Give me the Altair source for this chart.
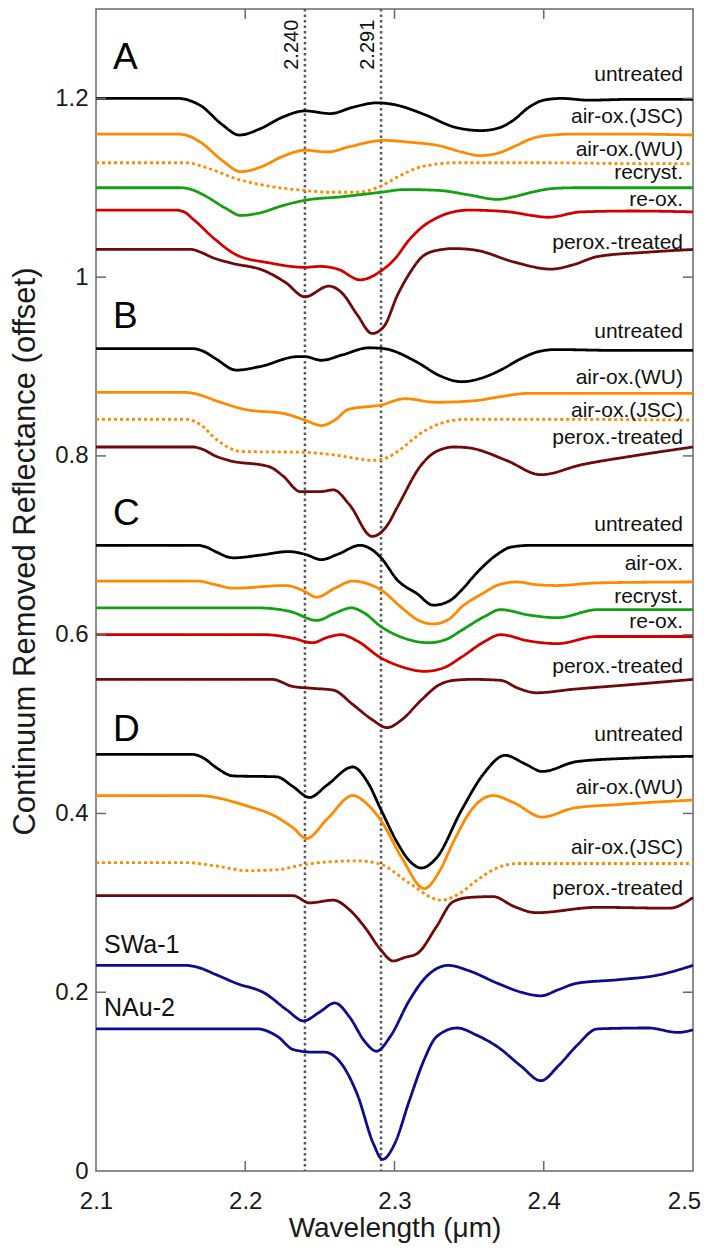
import altair as alt
import pandas as pd

# ---------------- data (wavelength in um, continuum-removed reflectance with offset) -------------
A_untreated = [(2.100,1.200),(2.155,1.200),(2.162,1.198),(2.170,1.192),(2.185,1.170),(2.196,1.159),(2.210,1.166),(2.225,1.179),(2.240,1.186),(2.257,1.183),(2.272,1.190),(2.288,1.195),(2.300,1.193),(2.320,1.182),(2.340,1.168),(2.358,1.164),(2.370,1.167),(2.380,1.176),(2.390,1.190),(2.400,1.198),(2.412,1.200),(2.430,1.198),(2.460,1.199),(2.500,1.199)]
A_airox_JSC = [(2.100,1.160),(2.155,1.160),(2.162,1.158),(2.170,1.151),(2.185,1.130),(2.197,1.118),(2.210,1.123),(2.225,1.135),(2.240,1.142),(2.255,1.140),(2.270,1.146),(2.293,1.153),(2.310,1.151),(2.330,1.147),(2.345,1.140),(2.357,1.136),(2.370,1.139),(2.380,1.146),(2.392,1.155),(2.405,1.159),(2.420,1.160),(2.460,1.160),(2.500,1.159)]
A_airox_WU = [(2.100,1.128),(2.160,1.128),(2.175,1.122),(2.194,1.110),(2.215,1.102),(2.240,1.097),(2.255,1.095),(2.275,1.095),(2.291,1.102),(2.302,1.112),(2.315,1.122),(2.326,1.126),(2.340,1.128),(2.400,1.128),(2.460,1.127),(2.500,1.127)]
A_recryst = [(2.100,1.100),(2.157,1.100),(2.164,1.098),(2.172,1.092),(2.187,1.077),(2.197,1.069),(2.210,1.072),(2.225,1.080),(2.240,1.086),(2.265,1.090),(2.291,1.095),(2.307,1.098),(2.330,1.097),(2.350,1.092),(2.369,1.087),(2.380,1.090),(2.392,1.095),(2.405,1.099),(2.420,1.100),(2.460,1.100),(2.500,1.100)]
A_reox = [(2.100,1.075),(2.153,1.075),(2.159,1.073),(2.165,1.065),(2.180,1.042),(2.194,1.025),(2.216,1.016),(2.240,1.011),(2.250,1.012),(2.262,1.009),(2.277,0.997),(2.291,1.007),(2.300,1.020),(2.310,1.042),(2.320,1.058),(2.328,1.066),(2.337,1.072),(2.350,1.075),(2.377,1.073),(2.392,1.069),(2.403,1.067),(2.425,1.073),(2.460,1.074),(2.500,1.073)]
A_perox = [(2.100,1.031),(2.164,1.031),(2.170,1.028),(2.178,1.022),(2.190,1.016),(2.213,1.007),(2.227,0.994),(2.240,0.978),(2.256,0.990),(2.265,0.982),(2.275,0.958),(2.285,0.937),(2.293,0.945),(2.302,0.980),(2.310,1.004),(2.318,1.022),(2.326,1.029),(2.340,1.032),(2.355,1.030),(2.380,1.017),(2.405,1.009),(2.420,1.014),(2.436,1.023),(2.470,1.028),(2.500,1.031)]

B_untreated = [(2.100,0.920),(2.165,0.920),(2.172,0.917),(2.180,0.909),(2.194,0.896),(2.210,0.900),(2.235,0.911),(2.240,0.911),(2.251,0.907),(2.265,0.913),(2.283,0.921),(2.293,0.920),(2.315,0.905),(2.330,0.890),(2.345,0.883),(2.360,0.888),(2.371,0.896),(2.385,0.909),(2.395,0.916),(2.408,0.919),(2.450,0.918),(2.500,0.918)]
B_airox_WU = [(2.100,0.871),(2.160,0.871),(2.170,0.868),(2.180,0.862),(2.200,0.852),(2.227,0.847),(2.240,0.840),(2.251,0.834),(2.260,0.840),(2.269,0.852),(2.291,0.857),(2.307,0.864),(2.328,0.860),(2.355,0.862),(2.370,0.866),(2.390,0.870),(2.450,0.870),(2.500,0.870)]
B_airox_JSC = [(2.100,0.841),(2.160,0.841),(2.170,0.835),(2.181,0.818),(2.197,0.805),(2.240,0.804),(2.260,0.801),(2.275,0.797),(2.285,0.795),(2.295,0.798),(2.302,0.805),(2.320,0.828),(2.332,0.837),(2.348,0.841),(2.400,0.841),(2.500,0.840)]
B_perox = [(2.100,0.810),(2.165,0.810),(2.172,0.807),(2.180,0.800),(2.189,0.795),(2.216,0.788),(2.225,0.778),(2.237,0.760),(2.250,0.760),(2.259,0.762),(2.270,0.745),(2.285,0.710),(2.295,0.722),(2.302,0.743),(2.318,0.790),(2.328,0.805),(2.340,0.810),(2.350,0.809),(2.375,0.795),(2.398,0.779),(2.425,0.790),(2.460,0.800),(2.500,0.810)]

C_untreated = [(2.100,0.700),(2.168,0.700),(2.174,0.698),(2.180,0.693),(2.192,0.686),(2.210,0.689),(2.229,0.693),(2.240,0.690),(2.251,0.684),(2.262,0.690),(2.277,0.700),(2.285,0.695),(2.291,0.686),(2.302,0.661),(2.315,0.646),(2.326,0.633),(2.337,0.638),(2.345,0.650),(2.355,0.669),(2.369,0.690),(2.378,0.698),(2.392,0.700),(2.450,0.700),(2.500,0.700)]
C_airox = [(2.100,0.660),(2.168,0.660),(2.180,0.656),(2.192,0.652),(2.227,0.655),(2.238,0.650),(2.248,0.642),(2.260,0.652),(2.272,0.660),(2.282,0.657),(2.291,0.650),(2.305,0.630),(2.315,0.617),(2.326,0.612),(2.337,0.618),(2.345,0.631),(2.360,0.647),(2.370,0.656),(2.382,0.659),(2.395,0.656),(2.409,0.655),(2.436,0.658),(2.500,0.659)]
C_recryst = [(2.100,0.630),(2.208,0.630),(2.230,0.626),(2.248,0.616),(2.260,0.624),(2.271,0.630),(2.280,0.624),(2.291,0.609),(2.305,0.597),(2.323,0.591),(2.335,0.595),(2.345,0.605),(2.360,0.620),(2.371,0.628),(2.390,0.622),(2.409,0.619),(2.436,0.628),(2.500,0.628)]
C_reox = [(2.100,0.600),(2.213,0.600),(2.232,0.596),(2.245,0.591),(2.255,0.597),(2.264,0.600),(2.275,0.593),(2.291,0.574),(2.305,0.564),(2.320,0.559),(2.333,0.563),(2.345,0.575),(2.360,0.592),(2.371,0.600),(2.390,0.593),(2.409,0.590),(2.436,0.598),(2.500,0.598)]
C_perox = [(2.100,0.550),(2.218,0.550),(2.232,0.542),(2.245,0.540),(2.259,0.538),(2.272,0.522),(2.285,0.505),(2.295,0.496),(2.305,0.505),(2.318,0.527),(2.330,0.544),(2.340,0.549),(2.352,0.550),(2.371,0.549),(2.383,0.540),(2.395,0.535),(2.420,0.539),(2.450,0.543),(2.500,0.550)]

D_untreated = [(2.100,0.466),(2.165,0.466),(2.172,0.462),(2.180,0.452),(2.192,0.442),(2.221,0.441),(2.232,0.430),(2.243,0.418),(2.255,0.432),(2.272,0.452),(2.282,0.435),(2.291,0.404),(2.302,0.367),(2.310,0.347),(2.318,0.339),(2.328,0.350),(2.345,0.404),(2.360,0.445),(2.374,0.465),(2.388,0.455),(2.399,0.447),(2.422,0.458),(2.460,0.462),(2.500,0.464)]
D_airox_WU = [(2.100,0.420),(2.168,0.420),(2.200,0.409),(2.221,0.396),(2.232,0.384),(2.241,0.372),(2.255,0.394),(2.272,0.420),(2.282,0.410),(2.291,0.392),(2.305,0.350),(2.320,0.316),(2.330,0.335),(2.340,0.370),(2.352,0.405),(2.366,0.420),(2.380,0.412),(2.399,0.396),(2.420,0.406),(2.450,0.410),(2.500,0.415)]
D_airox_JSC = [(2.100,0.345),(2.160,0.345),(2.185,0.340),(2.200,0.336),(2.221,0.337),(2.240,0.343),(2.275,0.347),(2.291,0.343),(2.310,0.322),(2.331,0.303),(2.345,0.312),(2.355,0.325),(2.370,0.340),(2.382,0.344),(2.500,0.344)]
D_perox = [(2.100,0.308),(2.232,0.308),(2.243,0.300),(2.259,0.303),(2.270,0.292),(2.280,0.273),(2.291,0.247),(2.299,0.235),(2.307,0.239),(2.315,0.243),(2.328,0.273),(2.339,0.301),(2.350,0.306),(2.366,0.307),(2.380,0.296),(2.395,0.289),(2.436,0.295),(2.484,0.294),(2.500,0.306)]

SWa1 = [(2.100,0.230),(2.160,0.230),(2.168,0.228),(2.180,0.220),(2.194,0.210),(2.213,0.199),(2.228,0.180),(2.239,0.168),(2.250,0.178),(2.260,0.188),(2.270,0.172),(2.280,0.145),(2.288,0.134),(2.297,0.150),(2.310,0.191),(2.320,0.215),(2.336,0.230),(2.350,0.224),(2.369,0.210),(2.385,0.200),(2.398,0.196),(2.410,0.203),(2.422,0.210),(2.450,0.214),(2.476,0.219),(2.500,0.230)]
NAu2 = [(2.100,0.159),(2.208,0.159),(2.222,0.150),(2.232,0.136),(2.245,0.133),(2.253,0.133),(2.264,0.121),(2.275,0.086),(2.286,0.030),(2.292,0.013),(2.300,0.030),(2.310,0.079),(2.320,0.125),(2.328,0.150),(2.342,0.160),(2.355,0.152),(2.369,0.139),(2.385,0.117),(2.398,0.101),(2.410,0.118),(2.422,0.140),(2.436,0.159),(2.470,0.160),(2.490,0.155),(2.500,0.158)]

# right-hand curve labels
LABEL_TEXT = ["untreated", "air-ox.(JSC)", "air-ox.(WU)", "recryst.", "re-ox.", "perox.-treated",
              "untreated", "air-ox.(WU)", "air-ox.(JSC)", "perox.-treated",
              "untreated", "air-ox.", "recryst.", "re-ox.", "perox.-treated",
              "untreated", "air-ox.(WU)", "air-ox.(JSC)", "perox.-treated"]
LABEL_R = [1.220, 1.172, 1.136, 1.110, 1.080, 1.031,
           0.932, 0.881, 0.844, 0.8135,
           0.716, 0.672, 0.635, 0.607, 0.557,
           0.481, 0.4217, 0.3545, 0.3086]
# reference standards (left labels)
STD_TEXT = ["SWa-1", "NAu-2"]
STD_R = [0.2434, 0.1732]
# panel letters
PANEL_TEXT = ["A", "B", "C", "D"]
PANEL_R = [1.233, 0.943, 0.723, 0.481]
# marked band positions
BAND_W = [2.240, 2.291]
BAND_TEXT = ["2.240", "2.291"]
BAND_LABEL_R = 1.232
X_TICKS = [2.1, 2.2, 2.3, 2.4, 2.5]
Y_TICKS = [0, 0.2, 0.4, 0.6, 0.8, 1.0, 1.2]

# ---------------- styling registry ----------------
BLACK, ORANGE, GREEN, RED, DRED, NAVY = "#000000", "#ff8a00", "#14a014", "#d40000", "#6e0a0a", "#0c0c8c"
CURVES = [
    ("A_untreated", A_untreated, BLACK, "solid"), ("A_airox_JSC", A_airox_JSC, ORANGE, "solid"),
    ("A_airox_WU", A_airox_WU, ORANGE, "dotted"), ("A_recryst", A_recryst, GREEN, "solid"),
    ("A_reox", A_reox, RED, "solid"), ("A_perox", A_perox, DRED, "solid"),
    ("B_untreated", B_untreated, BLACK, "solid"), ("B_airox_WU", B_airox_WU, ORANGE, "solid"),
    ("B_airox_JSC", B_airox_JSC, ORANGE, "dotted"), ("B_perox", B_perox, DRED, "solid"),
    ("C_untreated", C_untreated, BLACK, "solid"), ("C_airox", C_airox, ORANGE, "solid"),
    ("C_recryst", C_recryst, GREEN, "solid"), ("C_reox", C_reox, RED, "solid"),
    ("C_perox", C_perox, DRED, "solid"),
    ("D_untreated", D_untreated, BLACK, "solid"), ("D_airox_WU", D_airox_WU, ORANGE, "solid"),
    ("D_airox_JSC", D_airox_JSC, ORANGE, "dotted"), ("D_perox", D_perox, DRED, "solid"),
    ("SWa1", SWa1, NAVY, "solid"), ("NAu2", NAu2, NAVY, "solid"),
]

rows = []
for name, pts, color, dash in CURVES:
    for i, (w, r) in enumerate(pts):
        rows.append({"curve": name, "w": w, "r": r, "color": color, "dash": dash, "order": i})
df = pd.DataFrame(rows)

W, H = 597, 1162
FONT = "Liberation Sans"
FRAME = "#6a6a6a"

xscale = alt.Scale(domain=[2.1, 2.5], nice=False, zero=False)
yscale = alt.Scale(domain=[0, 1.3], nice=False, zero=False)
X = alt.X("w:Q", scale=xscale, axis=alt.Axis(
    values=X_TICKS, format=".1f", title="Wavelength (μm)", labelPadding=18,
    labelFlush=False, labelOverlap=False,
    labelOffset={"condition": {"test": "datum.value > 2.45", "value": -9}, "value": 0},
    titleX=W / 2, titleY=65, titleBaseline="alphabetic", titleFontSize=28))
Y = alt.Y("r:Q", scale=yscale, axis=alt.Axis(
    values=Y_TICKS, format="~g", title="Continuum Removed Reflectance (offset)",
    labelPadding=8, labelOverlap=False, titleAngle=270, titleX=-62, titleY=542,
    titleBaseline="alphabetic", titleAlign="center", titleFontSize=31))

lines = alt.Chart(df).mark_line(interpolate="monotone", strokeWidth=2.8).encode(
    x=X, y=Y,
    color=alt.Color("color:N", scale=None),
    strokeDash=alt.StrokeDash("dash:N", scale=alt.Scale(domain=["solid", "dotted"], range=[[1, 0], [3, 3]]), legend=None),
    detail="curve:N",
    order="order:Q",
)

band_df = pd.DataFrame({"w": BAND_W, "lab": BAND_TEXT, "r": [BAND_LABEL_R] * len(BAND_W)})
bands = alt.Chart(band_df).mark_rule(color="#5a5a5a", strokeWidth=2.5, strokeDash=[2.5, 3]).encode(x=X)
band_labels = alt.Chart(band_df).mark_text(
    angle=270, align="left", baseline="alphabetic", dy=-7, fontSize=20, font=FONT, color="#111"
).encode(x=X, y=Y, text="lab:N")

lab_df = pd.DataFrame({"w": [2.5] * len(LABEL_TEXT), "r": LABEL_R, "t": LABEL_TEXT})
labels = alt.Chart(lab_df).mark_text(
    align="right", baseline="alphabetic", dx=-10, fontSize=21, font=FONT, color="#111"
).encode(x=X, y=Y, text="t:N")

std_df = pd.DataFrame({"w": [2.1] * len(STD_TEXT), "r": STD_R, "t": STD_TEXT})
std_labels = alt.Chart(std_df).mark_text(
    align="left", baseline="alphabetic", dx=8, fontSize=25, font=FONT, color="#111"
).encode(x=X, y=Y, text="t:N")

pan_df = pd.DataFrame({"w": [2.1] * len(PANEL_TEXT), "r": PANEL_R, "t": PANEL_TEXT})
panels = alt.Chart(pan_df).mark_text(
    align="left", baseline="alphabetic", dx=17, fontSize=37, font=FONT, color="#000"
).encode(x=X, y=Y, text="t:N")

# inward ticks on all four sides (MATLAB style box)
xt_df = pd.DataFrame({"w": X_TICKS[1:-1]})
yt_df = pd.DataFrame({"r": Y_TICKS[1:]})
tick_style = dict(color=FRAME, strokeWidth=1.5)
xt_bottom = alt.Chart(xt_df).mark_rule(**tick_style).encode(x=X, y=alt.value(H), y2=alt.value(H - 10))
xt_top = alt.Chart(xt_df).mark_rule(**tick_style).encode(x=X, y=alt.value(0), y2=alt.value(10))
yt_left = alt.Chart(yt_df).mark_rule(**tick_style).encode(y=Y, x=alt.value(0), x2=alt.value(10))
yt_right = alt.Chart(yt_df).mark_rule(**tick_style).encode(y=Y, x=alt.value(W), x2=alt.value(W - 10))

chart = alt.layer(
    bands, lines, band_labels, labels, std_labels, panels, xt_bottom, xt_top, yt_left, yt_right
).properties(
    width=W, height=H,
    autosize=alt.AutoSizeParams(type="none"),
    padding={"left": 88, "top": 1, "right": 9, "bottom": 72},
).configure_view(
    stroke=FRAME, strokeWidth=1.5
).configure_axis(
    domain=False, ticks=False, tickSize=0, grid=False,
    labelFont=FONT, labelFontSize=24, labelColor="#1a1a1a",
    titleFont=FONT, titleFontWeight="normal", titleColor="#1a1a1a",
)

chart.save("out.html", embed_options={"renderer": "svg", "actions": False})
